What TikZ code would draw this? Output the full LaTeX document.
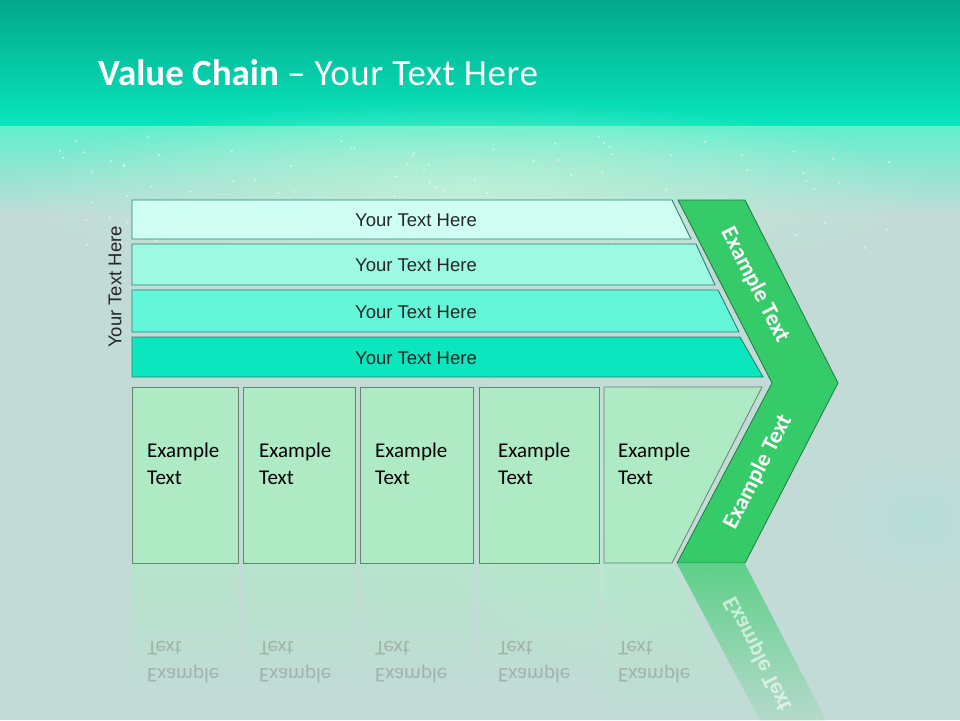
\documentclass[tikz,border=0pt]{standalone}
\usepackage{fontspec}
\setmainfont{Carlito}
\newfontfamily\barfont{Liberation Sans}
\usetikzlibrary{fadings}
\tikzfading[name=softglow,inner color=transparent!20,outer color=transparent!100]

\definecolor{topdark}{HTML}{04A88A}
\definecolor{topmid}{HTML}{08E6BC}
\definecolor{glowband}{HTML}{5FF0CC}
\definecolor{paleback}{HTML}{C2DBD6}
\definecolor{glowcenter}{HTML}{C8F5DA}
\definecolor{bubble}{HTML}{C4EFDC}
\definecolor{wave}{HTML}{9FE3E0}
\definecolor{barone}{HTML}{CFFFF0}
\definecolor{bartwo}{HTML}{9EF9E2}
\definecolor{barthree}{HTML}{64F6D8}
\definecolor{barfour}{HTML}{0BE6BE}
\definecolor{barline}{HTML}{2A8070}
\definecolor{boxfill}{HTML}{AEEBC5}
\definecolor{boxline}{HTML}{6F7F76}
\definecolor{chevfill}{HTML}{35CB69}
\definecolor{chevline}{HTML}{1F7A44}

\begin{document}
\begin{tikzpicture}[x=1pt,y=-1pt,
		bar/.style={draw=barline,line width=0.9pt},
		bartext/.style={font=\barfont\fontsize{18.5}{22}\selectfont,text=black!85},
		block/.style={draw=boxline,fill=boxfill,line width=0.8pt},
		blocktext/.style={font=\fontsize{21}{27}\selectfont,align=left,anchor=north west,inner sep=0pt},
		chevtext/.style={font=\bfseries\fontsize{23}{26}\selectfont,text=white}]
			\useasboundingbox (0,0) rectangle (960,720);
			
			% background
			
			\fill[paleback] (0,0) rectangle (960,720);
			\shade[top color=topdark,bottom color=topmid] (0,0) rectangle (960,126);
			\shade[top color=glowband,bottom color=paleback] (0,126) rectangle (960,215);
			\fill[glowcenter,opacity=0.9,path fading=softglow] (470,190) ellipse (470 and 90);
			\fill[bubble,opacity=0.8,path fading=softglow] (590,500) circle (170);
			\fill[wave,opacity=0.4,path fading=softglow] (920,520) ellipse (90 and 70);
			\pgfmathsetseed{7}
			\foreach \k in {1,...,110} {
				\pgfmathsetmacro{\sx}{60+840*rnd}
				\pgfmathsetmacro{\sy}{135+120*rnd}
				\fill[white,opacity=0.55] (\sx,\sy) circle (1.2);
			}
			
			% title
			
			\node[anchor=base west,inner sep=0pt,text=white,font=\fontsize{37}{40}\selectfont] (title) at (98,85) {\textbf{Value Chain} {\addfontfeatures{LetterSpace=1.5}– Your Text Here}};
			
			% bars
			
			\foreach \i/\yt/\yb/\xt/\xb/\col in {1/200/239/672/691/barone,2/244/285/696/715/bartwo,3/290/332/718/739/barthree,4/337/377/740/763/barfour} {
				\filldraw[bar,fill=\col] (132,\yt) -- (\xt,\yt) -- (\xb,\yb) -- (132,\yb) -- cycle;
				\node[bartext] (B\i) at (416,{(\yt+\yb)/2+1}) {Your Text Here};
			}
			\node[bartext,rotate=90] (side) at (115,287) {Your Text Here};
			
			% chevron
			
			\filldraw[draw=chevline,fill=chevfill,line width=0.8pt] (678,200) -- (745,200) -- (838,383) -- (745,563) -- (677,563) -- (772,383) -- cycle;
			\node[chevtext,rotate=-63] (C1) at (755,285) {Example Text};
			\node[chevtext,rotate=63] (C2) at (758,472) {Example Text};
			
			% blocks
			
			\foreach \i/\xl/\xr/\xt in {1/132/238/147,2/243/355/259,3/360/473/375,4/479/599/498} {
				\filldraw[block] (\xl,387) rectangle (\xr,563);
				\node[blocktext] (E\i) at (\xt,443) {Example\\Text};
			}
			\filldraw[block] (604,387) -- (762,387) -- (672,563) -- (604,563) -- cycle;
			\node[blocktext] (E5) at (618,443) {Example\\Text};
			
			% reflection
			
			\foreach \xl/\xr in {132/238,243/355,360/473,479/599} {
				\fill[boxfill,fill opacity=0.6,path fading=south] (\xl,564) rectangle (\xr,700);
			}
			\fill[boxfill,fill opacity=0.6,path fading=south] (604,564) -- (672,564) -- (762,739) -- (604,739) -- cycle;
			\fill[chevfill,fill opacity=0.7,path fading=south] (677,564) -- (745,564) -- (838,743) -- (772,743) -- cycle;
			\begin{scope}[shift={(0,1126)},yscale=-1,transform shape]
				\foreach \xt in {147,259,375,498,618} {
					\node[blocktext,text=gray,text opacity=0.45] at (\xt,443) {Example\\Text};
				}
				\node[chevtext,rotate=63,text opacity=0.6] at (758,472) {Example Text};
			\end{scope}
			
		\end{tikzpicture}
\end{document}
